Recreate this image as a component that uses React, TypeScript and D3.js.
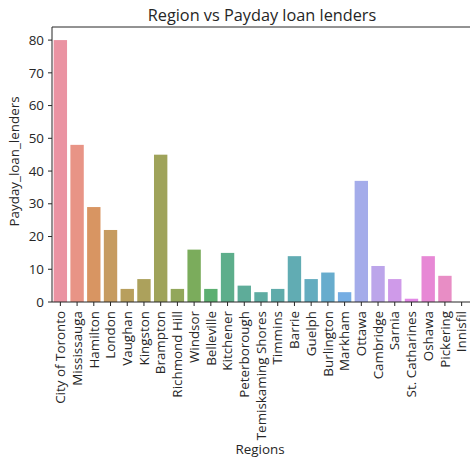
import React, { useRef, useEffect } from 'react';
import * as d3 from 'd3';

const regions = [
  'City of Toronto', 'Mississauga', 'Hamilton', 'London', 'Vaughan', 'Kingston',
  'Brampton', 'Richmond Hill', 'Windsor', 'Belleville', 'Kitchener', 'Peterborough',
  'Temiskaming Shores', 'Timmins', 'Barrie', 'Guelph', 'Burlington', 'Markham',
  'Ottawa', 'Cambridge', 'Sarnia', 'St. Catharines', 'Oshawa', 'Pickering', 'Innisfil',
];
const lenders = [80, 48, 29, 22, 4, 7, 45, 4, 16, 4, 15, 5, 3, 4, 14, 7, 9, 3, 37, 11, 7, 1, 14, 8, 0];
const yTicks = [0, 10, 20, 30, 40, 50, 60, 70, 80];

// husl -> rgb, as in seaborn's husl palette
const M = [
  [3.2406, -1.5372, -0.4986],
  [-0.9689, 1.8758, 0.0415],
  [0.0557, -0.204, 1.057],
];
const refU = 0.19784, refV = 0.46834;

function maxChroma(L: number, H: number) {
  const hrad = (H * Math.PI) / 180;
  const sinH = Math.sin(hrad), cosH = Math.cos(hrad);
  const sub1 = Math.pow(L + 16, 3) / 1560896;
  const sub2 = sub1 > 0.008856 ? sub1 : L / 903.3;
  let result = Infinity;
  for (const [m1, m2, m3] of M) {
    const top = (0.99915 * m1 + 1.05122 * m2 + 1.1446 * m3) * sub2;
    const rb = 0.8633 * m3 - 0.17266 * m2;
    const lb = 0.12949 * m3 - 0.38848 * m1;
    const bottom = (rb * sinH + lb * cosH) * sub2;
    for (const t of [0, 1]) {
      const C = (L * (top - 1.05122 * t)) / (bottom + 0.17266 * sinH * t);
      if (C > 0 && C < result) result = C;
    }
  }
  return result;
}

function huslToRgb(H: number, S: number, L: number): [number, number, number] {
  const C = (maxChroma(L, H) * S) / 100;
  const hrad = (H * Math.PI) / 180;
  const U = C * Math.cos(hrad), V = C * Math.sin(hrad);
  const t = (L + 16) / 116;
  const varY = t * t * t > 0.008856 ? t * t * t : (116 * t - 16) / 903.3;
  const varU = U / (13 * L) + refU;
  const varV = V / (13 * L) + refV;
  const Y = varY;
  const X = -(9 * Y * varU) / ((varU - 4) * varV - varU * varV);
  const Z = (9 * Y - 15 * varV * Y - varV * X) / (3 * varV);
  const lin = M.map((r) => r[0] * X + r[1] * Y + r[2] * Z);
  return lin.map((c) => {
    const v = c <= 0.0031308 ? 12.92 * c : 1.055 * Math.pow(c, 1 / 2.4) - 0.055;
    return Math.max(0, Math.min(1, v));
  }) as [number, number, number];
}

const palette = regions.map((_, i) => {
  const h = (((i / regions.length) + 0.01) % 1) * 359;
  const [r, g, b] = huslToRgb(h, 0.9 * 99, 0.65 * 99);
  const c = d3.hsl(d3.rgb(r * 255, g * 255, b * 255));
  c.s *= 0.75;
  // the reference reads a little lighter than the raw palette
  return d3.interpolateRgb(c.formatHex(), '#ffffff')(0.14);
});

const App: React.FC = () => {
  const svgRef = useRef<SVGSVGElement | null>(null);

  useEffect(() => {
    document.body.style.margin = '0';
    const svg = d3.select(svgRef.current);
    svg.selectAll('*').remove();

    const width = 470;
    const height = 460;
    const left = 52, right = 470, top = 27, bottom = 302;
    const font = '"Open Sans", "Noto Sans", sans-serif';
    const ink = '#262626';
    const fs = 13.4;

    svg.attr('width', width).attr('height', height);

    const x = d3.scaleBand().domain(regions).range([left, right]).paddingInner(0.2).paddingOuter(0.1);
    const y = d3.scaleLinear().domain([0, 84]).range([bottom, top]);

    svg
      .selectAll('rect.bar')
      .data(regions)
      .enter()
      .append('rect')
      .attr('class', 'bar')
      .attr('x', (d) => x(d)!)
      .attr('y', (d, i) => y(lenders[i]))
      .attr('width', x.bandwidth())
      .attr('height', (d, i) => bottom - y(lenders[i]))
      .attr('fill', (d, i) => palette[i]);

    // spines
    svg.append('line').attr('x1', left).attr('x2', left).attr('y1', top).attr('y2', bottom).attr('stroke', ink).attr('stroke-width', 1);
    svg.append('line').attr('x1', left).attr('x2', right).attr('y1', top).attr('y2', top).attr('stroke', ink).attr('stroke-width', 1);
    svg.append('line').attr('x1', left).attr('x2', right).attr('y1', bottom).attr('y2', bottom).attr('stroke', ink).attr('stroke-width', 1);

    // y ticks
    const yg = svg.append('g');
    yTicks.forEach((t) => {
      yg.append('line').attr('x1', left - 4).attr('x2', left).attr('y1', y(t)).attr('y2', y(t)).attr('stroke', ink).attr('stroke-width', 1);
      yg.append('text').attr('x', left - 8).attr('y', y(t)).attr('dy', '0.35em').attr('text-anchor', 'end')
        .attr('font-family', font).attr('font-size', fs).attr('fill', ink).text(t);
    });

    // x ticks
    const xg = svg.append('g');
    regions.forEach((r) => {
      const cx = x(r)! + x.bandwidth() / 2;
      xg.append('line').attr('x1', cx).attr('x2', cx).attr('y1', bottom).attr('y2', bottom + 4).attr('stroke', ink).attr('stroke-width', 1);
      xg.append('text').attr('transform', `translate(${cx},${bottom + 9}) rotate(-90)`).attr('dy', '0.35em').attr('text-anchor', 'end')
        .attr('font-family', font).attr('font-size', fs).attr('fill', ink).text(r);
    });

    svg.append('text').attr('x', 262).attr('y', 21).attr('text-anchor', 'middle')
      .attr('font-family', font).attr('font-size', 16.3).attr('fill', ink).text('Region vs Payday loan lenders');
    svg.append('text').attr('x', 260).attr('y', 454).attr('text-anchor', 'middle')
      .attr('font-family', font).attr('font-size', fs).attr('fill', ink).text('Regions');
    svg.append('text').attr('transform', `translate(14,${(top + bottom) / 2 - 3}) rotate(-90)`).attr('dy', '0.35em').attr('text-anchor', 'middle')
      .attr('font-family', font).attr('font-size', fs).attr('fill', ink).text('Payday_loan_lenders');
  }, []);

  return <svg ref={svgRef} style={{ display: 'block' }}></svg>;
};

export default App;
